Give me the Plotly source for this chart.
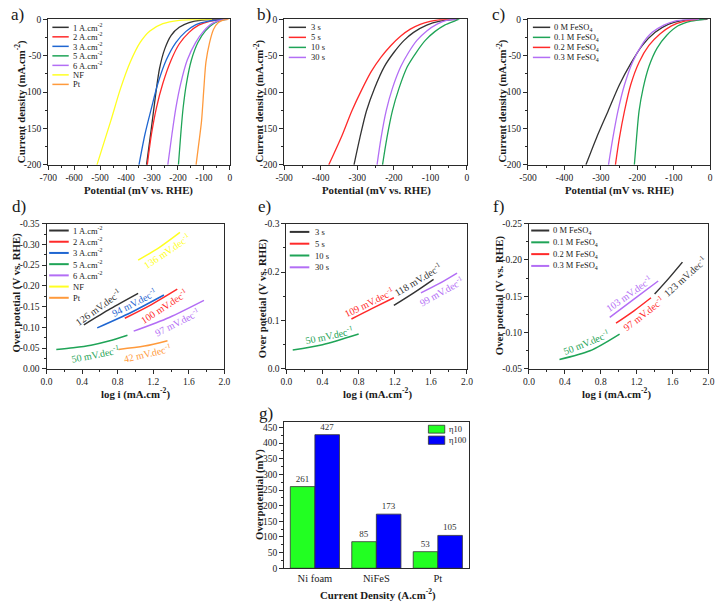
import plotly.graph_objects as go

FONT = "Liberation Serif"
W, H = 722, 607

# ======================= DATA =======================
# Panel a : LSV (potential mV vs RHE, current density mA.cm-2)
a_names = ["1 A.cm<sup>-2</sup>", "2 A.cm<sup>-2</sup>", "3 A.cm<sup>-2</sup>",
           "5 A.cm<sup>-2</sup>", "6 A.cm<sup>-2</sup>", "NF", "Pt"]
a_1A_x = [-321, -302, -286, -271, -251, -226, -195, -157, -107, -31]
a_1A_y = [-200, -149, -104, -68, -41, -22, -11, -4.5, -1, 0]
a_2A_x = [-318, -302, -283, -258, -226, -195, -157, -120, -75, -26]
a_2A_y = [-200, -158, -122, -88, -56, -34, -18, -8, -2.5, 0]
a_3A_x = [-350, -327, -302, -277, -245, -208, -170, -132, -82, -25]
a_3A_y = [-200, -158, -122, -88, -56, -32, -17, -7.6, -2.5, 0]
a_5A_x = [-198, -189, -180, -167, -148, -123, -94, -63, -25, -10]
a_5A_y = [-200, -158, -122, -88, -56, -32, -16, -6, -1, 0]
a_6A_x = [-239, -223, -208, -189, -164, -132, -100, -69, -31, -10]
a_6A_y = [-200, -158, -122, -88, -56, -32, -16, -6, -1, 0]
a_NF_x = [-512, -459, -421, -384, -346, -308, -258, -195, -132, -69]
a_NF_y = [-200, -140, -95, -59, -32, -16, -6, -1.4, -0.3, 0]
a_Pt_x = [-130, -120, -109, -100, -92, -78, -63, -44, -19, -5]
a_Pt_y = [-200, -172, -140, -95, -59, -32, -14, -4.5, -0.5, 0]

# Panel b : deposition time
b_names = ["3 s", "5 s", "10 s", "30 s"]
b_3s_x = [-309, -293, -275, -253, -226, -199, -172, -146, -110, -74, -38, -25]
b_3s_y = [-200, -163, -126, -95, -65, -45, -29, -18, -8, -2.7, -0.5, 0]
b_5s_x = [-378, -342, -315, -288, -262, -235, -208, -181, -155, -128, -101, -74, -47]
b_5s_y = [-200, -160, -126, -97, -72, -52, -36, -23, -13.6, -7, -3, -0.5, 0]
b_10s_x = [-231, -219, -204, -186, -163, -138, -114, -88, -61, -34, -21]
b_10s_y = [-200, -163, -126, -95, -65, -45, -29, -17, -8, -2.5, 0]
b_30s_x = [-246, -235, -221, -204, -181, -159, -137, -110, -83, -56, -29]
b_30s_y = [-200, -163, -126, -95, -65, -45, -29, -16, -7, -1.5, 0]

# Panel c : FeSO4 concentration
c_names = ["0 M FeSO<sub>4</sub>", "0.1 M FeSO<sub>4</sub>",
           "0.2 M FeSO<sub>4</sub>", "0.3 M FeSO<sub>4</sub>"]
c_0_x = [-341, -312, -280, -249, -218, -186, -151, -115, -79, -43, -7]
c_0_y = [-200, -163, -126, -90, -61, -36, -18, -7, -2, -0.3, 0]
c_01_x = [-208, -202, -195, -184, -168, -146, -119, -88, -52, -16]
c_01_y = [-200, -163, -126, -95, -65, -40, -22, -9, -2.5, 0]
c_02_x = [-260, -249, -235, -218, -195, -168, -137, -106, -70, -34]
c_02_y = [-200, -163, -126, -90, -59, -36, -20, -9, -2.5, 0]
c_03_x = [-279, -267, -253, -235, -213, -186, -159, -127, -97, -61, -30]
c_03_y = [-200, -163, -126, -90, -59, -34, -18, -8, -2.5, -0.5, 0]

# Panel d : Tafel (log i, overpotential V)
d_1A_x = [0.42, 0.72, 1.03];  d_1A_y = [-0.106, -0.145, -0.182]
d_2A_x = [0.88, 1.18, 1.47];  d_2A_y = [-0.122, -0.155, -0.192]
d_3A_x = [0.57, 0.95, 1.32];  d_3A_y = [-0.099, -0.136, -0.178]
d_5A_x = [0.11, 0.30, 0.50, 0.70, 0.91];  d_5A_y = [-0.047, -0.051, -0.057, -0.067, -0.081]
d_6A_x = [0.98, 1.38, 1.77];  d_6A_y = [-0.091, -0.124, -0.165]
d_NF_x = [1.03, 1.27, 1.50];  d_NF_y = [-0.262, -0.293, -0.329]
d_Pt_x = [0.81, 1.10, 1.36];  d_Pt_y = [-0.047, -0.055, -0.068]
d_slopes = ["126", "100", "94", "50", "97", "136", "42"]   # order: 1A,2A,3A,5A,6A,NF,Pt
d_lab_x = [0.58, 1.32, 0.99, 0.55, 1.47, 1.35, 1.14]
d_lab_y = [-0.150, -0.152, -0.160, -0.037, -0.112, -0.284, -0.039]
d_lab_ang = [-36, -33, -27, -11, -27, -34, -13]

# Panel e
e_3s_x = [1.19, 1.41, 1.63];  e_3s_y = [-0.131, -0.157, -0.185]
e_5s_x = [0.72, 0.94, 1.19];  e_5s_y = [-0.103, -0.124, -0.147]
e_10s_x = [0.07, 0.40, 0.80]; e_10s_y = [-0.039, -0.050, -0.072]
e_30s_x = [1.49, 1.69, 1.89]; e_30s_y = [-0.157, -0.176, -0.198]
e_slopes = ["118", "109", "50", "99"]
e_lab_x = [1.46, 0.915, 0.48, 1.72]
e_lab_y = [-0.186, -0.139, -0.069, -0.161]
e_lab_ang = [-31, -26, -12, -29]

# Panel f
f_0_x = [1.40, 1.56, 1.71];   f_0_y = [-0.153, -0.175, -0.197]
f_01_x = [0.34, 0.68, 1.01];  f_01_y = [-0.063, -0.075, -0.098]
f_02_x = [0.97, 1.17, 1.36];  f_02_y = [-0.113, -0.130, -0.148]
f_03_x = [0.90, 1.17, 1.44];  f_03_y = [-0.121, -0.146, -0.171]
f_slopes = ["123", "50", "97", "103"]
f_lab_x = [1.74, 0.64, 1.28, 1.12]
f_lab_y = [-0.178, -0.087, -0.127, -0.154]
f_lab_ang = [-42, -22, -38, -35]

# Panel g : overpotential bars
g_categories = ["Ni foam", "NiFeS", "Pt"]
g_eta10 = [261, 85, 53]
g_eta100 = [427, 173, 105]

# Tick labels
lsv_a_xticks = [-700, -600, -500, -400, -300, -200, -100, 0]
lsv_bc_xticks = [-500, -400, -300, -200, -100, 0]
lsv_yticks = [0, -50, -100, -150, -200]
tafel_xticks = [0.0, 0.4, 0.8, 1.2, 1.6, 2.0]
d_yticks = [0.00, -0.05, -0.10, -0.15, -0.20, -0.25, -0.30, -0.35]
e_yticks = [0.0, -0.1, -0.2, -0.3]
f_yticks = [-0.05, -0.10, -0.15, -0.20, -0.25]
g_yticks = [0, 50, 100, 150, 200, 250, 300, 350, 400, 450]

# ======================= STYLE =======================
BLACK, RED, BLUE = "#333333", "#ff2a2a", "#1f66d1"
GREEN, PURPLE, YELLOW, ORANGE = "#1fa457", "#b36ef5", "#ffff22", "#ff9a3c"
AX = "#2a2a2a"
TXT = "#1a1a1a"


def fx(x):
    return x / W


def fy(y):
    return 1 - y / H


# pixel boxes of the seven plot areas: (left, right, top, bottom)
boxes = {
    1: (40, 225.5, 14.5, 162.5),
    2: (281, 467.7, 14.5, 162.5),
    3: (530, 716, 14.5, 162.5),
    4: (38.3, 220, 222.3, 370),
    5: (283.3, 467.7, 222.3, 370),
    6: (531, 714.3, 222.3, 370),
    7: (281, 469.3, 423.5, 572.7),
}

fig = go.Figure()


def add_line(k, xs, ys, color, width=1.3, shape="spline"):
    sfx = "" if k == 1 else str(k)
    fig.add_trace(go.Scatter(x=xs, y=ys, mode="lines",
                             line=dict(color=color, width=width, shape=shape, smoothing=0.8),
                             xaxis="x" + sfx, yaxis="y" + sfx, showlegend=False,
                             hoverinfo="skip"))


a_series = [(a_1A_x, a_1A_y, BLACK), (a_2A_x, a_2A_y, RED), (a_3A_x, a_3A_y, BLUE),
            (a_5A_x, a_5A_y, GREEN), (a_6A_x, a_6A_y, PURPLE), (a_NF_x, a_NF_y, YELLOW),
            (a_Pt_x, a_Pt_y, ORANGE)]
for xs, ys, c in a_series:
    add_line(1, xs, ys, c)
b_series = [(b_3s_x, b_3s_y, BLACK), (b_5s_x, b_5s_y, RED), (b_10s_x, b_10s_y, GREEN),
            (b_30s_x, b_30s_y, PURPLE)]
for xs, ys, c in b_series:
    add_line(2, xs, ys, c)
c_series = [(c_0_x, c_0_y, BLACK), (c_01_x, c_01_y, GREEN), (c_02_x, c_02_y, RED),
            (c_03_x, c_03_y, PURPLE)]
for xs, ys, c in c_series:
    add_line(3, xs, ys, c)
d_series = [(d_1A_x, d_1A_y, BLACK), (d_2A_x, d_2A_y, RED), (d_3A_x, d_3A_y, BLUE),
            (d_5A_x, d_5A_y, GREEN), (d_6A_x, d_6A_y, PURPLE), (d_NF_x, d_NF_y, YELLOW),
            (d_Pt_x, d_Pt_y, ORANGE)]
for xs, ys, c in d_series:
    add_line(4, xs, ys, c, width=1.5)
e_series = [(e_3s_x, e_3s_y, BLACK), (e_5s_x, e_5s_y, RED), (e_10s_x, e_10s_y, GREEN),
            (e_30s_x, e_30s_y, PURPLE)]
for xs, ys, c in e_series:
    add_line(5, xs, ys, c, width=1.5)
f_series = [(f_0_x, f_0_y, BLACK), (f_01_x, f_01_y, GREEN), (f_02_x, f_02_y, RED),
            (f_03_x, f_03_y, PURPLE)]
for xs, ys, c in f_series:
    add_line(6, xs, ys, c, width=1.5)

G10, G100 = "#22ff22", "#0000ff"
fig.add_trace(go.Bar(x=g_categories, y=g_eta10, name="η10", marker=dict(color=G10, line=dict(color="#333", width=0.8)),
                     text=[str(v) for v in g_eta10], textposition="outside",
                     textfont=dict(family=FONT, size=9, color="#333"), cliponaxis=False,
                     xaxis="x7", yaxis="y7", showlegend=False))
fig.add_trace(go.Bar(x=g_categories, y=g_eta100, name="η100", marker=dict(color=G100, line=dict(color="#333", width=0.8)),
                     text=[str(v) for v in g_eta100], textposition="outside",
                     textfont=dict(family=FONT, size=9, color="#333"), cliponaxis=False,
                     xaxis="x7", yaxis="y7", showlegend=False))


def axis(k, which, **kw):
    l, r, t, b = boxes[k]
    d = dict(showline=True, linecolor=AX, linewidth=1, mirror=True, ticks="outside",
             ticklen=4, tickwidth=1, tickcolor=AX, showgrid=False, zeroline=False,
             tickfont=dict(family=FONT, size=9.5, color=TXT))
    sfx = "" if k == 1 else str(k)
    if which == "x":
        d["domain"] = [fx(l), fx(r)]
        d["anchor"] = "y" + sfx
    else:
        d["domain"] = [fy(b), fy(t)]
        d["anchor"] = "x" + sfx
    d.update(kw)
    return d


def minor(dt):
    return dict(ticks="outside", ticklen=2, dtick=dt, tick0=0, tickcolor=AX, showgrid=False)


def lab(vals, fmt):
    return [fmt.format(v) if v != 0 else fmt.format(0) for v in vals]


layout = dict(width=W, height=H, margin=dict(l=0, r=0, t=0, b=0), autosize=False,
              paper_bgcolor="white", plot_bgcolor="white", showlegend=False,
              barmode="group", bargap=0.2, bargroupgap=0,
              font=dict(family=FONT, color=TXT))

layout["xaxis"] = axis(1, "x", range=[-700, 0], tickvals=lsv_a_xticks, ticktext=lab(lsv_a_xticks, "{:.0f}"), minor=minor(50))
layout["yaxis"] = axis(1, "y", range=[-200, 0], tickvals=lsv_yticks, ticktext=lab(lsv_yticks, "{:.0f}"), minor=minor(25))
layout["xaxis2"] = axis(2, "x", range=[-500, 0], tickvals=lsv_bc_xticks, ticktext=lab(lsv_bc_xticks, "{:.0f}"), minor=minor(50))
layout["yaxis2"] = axis(2, "y", range=[-200, 0], tickvals=lsv_yticks, ticktext=lab(lsv_yticks, "{:.0f}"), minor=minor(25))
layout["xaxis3"] = axis(3, "x", range=[-500, 0], tickvals=lsv_bc_xticks, ticktext=lab(lsv_bc_xticks, "{:.0f}"), minor=minor(50))
layout["yaxis3"] = axis(3, "y", range=[-200, 0], tickvals=lsv_yticks, ticktext=lab(lsv_yticks, "{:.0f}"), minor=minor(25))
layout["xaxis4"] = axis(4, "x", range=[0, 2], tickvals=tafel_xticks, ticktext=lab(tafel_xticks, "{:.1f}"), minor=minor(0.2))
layout["yaxis4"] = axis(4, "y", range=[0, -0.35], tickvals=d_yticks, ticktext=lab(d_yticks, "{:.2f}"), minor=minor(0.025))
layout["xaxis5"] = axis(5, "x", range=[0, 2], tickvals=tafel_xticks, ticktext=lab(tafel_xticks, "{:.1f}"), minor=minor(0.2))
layout["yaxis5"] = axis(5, "y", range=[0, -0.3], tickvals=e_yticks, ticktext=lab(e_yticks, "{:.1f}"), minor=minor(0.05))
layout["xaxis6"] = axis(6, "x", range=[0, 2], tickvals=tafel_xticks, ticktext=lab(tafel_xticks, "{:.1f}"), minor=minor(0.2))
layout["yaxis6"] = axis(6, "y", range=[-0.05, -0.25], tickvals=f_yticks, ticktext=lab(f_yticks, "{:.2f}"), minor=minor(0.025))
layout["xaxis7"] = axis(7, "x", range=[-0.5, 2.5], ticks="", tickfont=dict(family=FONT, size=10.5, color=TXT))
layout["yaxis7"] = axis(7, "y", range=[0, 469], tickvals=g_yticks, ticktext=[str(v) for v in g_yticks], minor=minor(25))

annotations = []
shapes = []


def text(x, y, s, size=9, bold=False, angle=0, color=TXT, xanchor="center", yanchor="middle", xref="paper", yref="paper"):
    if bold:
        s = "<b>" + s + "</b>"
    annotations.append(dict(x=x, y=y, xref=xref, yref=yref, text=s, showarrow=False,
                            textangle=angle, xanchor=xanchor, yanchor=yanchor,
                            font=dict(family=FONT, size=size, color=color)))


# panel letters
for s, x, y in [("a)", 0, 10), ("b)", 251, 10), ("c)", 491, 10), ("d)", 1, 205),
                ("e)", 252, 205), ("f)", 492, 205), ("g)", 253, 415)]:
    text(fx(x), fy(y), s, size=17, xanchor="left")

# axis titles
TS = 10.8
XT_LSV = "Potential (mV vs. RHE)"
YT_LSV = "Current density (mA.cm<sup>-2</sup>)"
XT_T = "log i (mA.cm<sup>-2</sup>)"
YT_T = "Over potetial (V vs. RHE)"
for x in (132.5, 375, 623.5):
    text(fx(x), fy(189), XT_LSV, size=TS, bold=True)
for x in (12, 255.5, 503.5):
    text(fx(x), fy(98), YT_LSV, size=TS, bold=True, angle=-90)
for x in (129, 376, 620):
    text(fx(x), fy(394.5), XT_T, size=TS, bold=True)
for x, y in ((7.5, 292), (258.5, 298), (500.5, 295)):
    text(fx(x), fy(y), YT_T, size=TS, bold=True, angle=-90)
text(fx(376.5), fy(599), "Current Density (A.cm<sup>-2</sup>)", size=TS, bold=True)
text(fx(256.5), fy(498), "Overpotential (mV)", size=TS, bold=True, angle=-90)


def legend(names, colors, x0, x1, tx, y0, dy, lw=1.5):
    for i, (n, c) in enumerate(zip(names, colors)):
        y = y0 + i * dy
        shapes.append(dict(type="line", xref="paper", yref="paper", x0=fx(x0), x1=fx(x1),
                           y0=fy(y), y1=fy(y), line=dict(color=c, width=lw)))
        text(fx(tx), fy(y), n, size=8.5, xanchor="left")


legend(a_names, [s[2] for s in a_series], 44.3, 61, 63.5, 22.7, 9.67)
legend(b_names, [s[2] for s in b_series], 285.7, 303.3, 306.5, 22.7, 10.2)
legend(c_names, [s[2] for s in c_series], 535, 552.7, 555, 22.7, 10.2)
legend(a_names, [s[2] for s in d_series], 41, 61, 63, 229.3, 11.4, lw=2)
legend(b_names, [s[2] for s in e_series], 286.7, 306.7, 310.7, 230.7, 12, lw=2)
legend(c_names, [s[2] for s in f_series], 533.3, 551.7, 554, 229.3, 12, lw=2)

for (c, n, yt, yb) in [(G10, "η10", 427.3, 435.3), (G100, "η100", 438.3, 446.7)]:
    shapes.append(dict(type="rect", xref="paper", yref="paper", x0=fx(428.3), x1=fx(445),
                       y0=fy(yb), y1=fy(yt), fillcolor=c, line=dict(color="#333", width=0.8)))
    text(fx(447), fy((yt + yb) / 2), n, size=8.5, xanchor="left")

SL = " mV.dec<sup>-1</sup>"
for k, slopes, lx, ly, ang, series in [(4, d_slopes, d_lab_x, d_lab_y, d_lab_ang, d_series),
                                       (5, e_slopes, e_lab_x, e_lab_y, e_lab_ang, e_series),
                                       (6, f_slopes, f_lab_x, f_lab_y, f_lab_ang, f_series)]:
    for s, x, y, a, ser in zip(slopes, lx, ly, ang, series):
        text(x, y, s + SL, size=10, angle=a, color=ser[2], xref="x%d" % k, yref="y%d" % k)

layout["annotations"] = annotations
layout["shapes"] = shapes
fig.update_layout(**layout)
fig.write_html("out.html", config={"displayModeBar": False, "staticPlot": True},
               post_script="document.body.style.margin='0';document.body.style.padding='0';"
                           "document.documentElement.style.overflow='hidden';")
